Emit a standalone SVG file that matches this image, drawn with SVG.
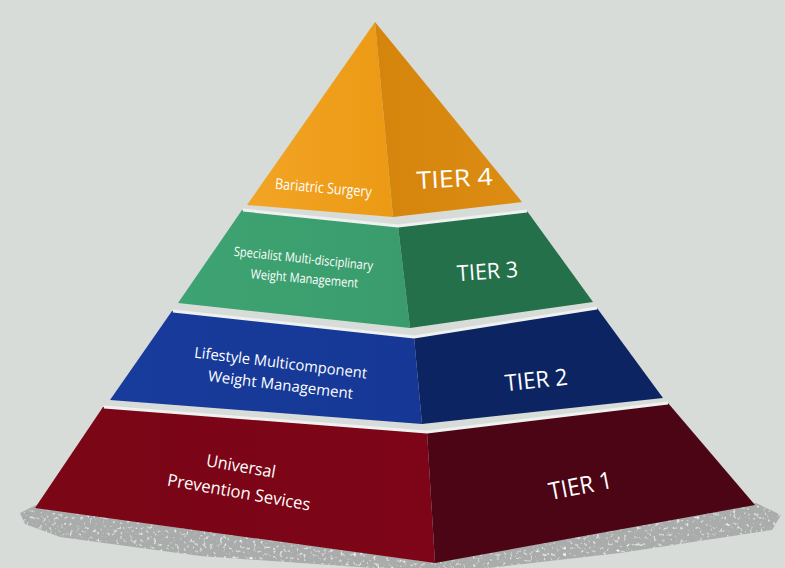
<svg xmlns="http://www.w3.org/2000/svg" width="785" height="568" viewBox="0 0 785 568">
<defs>
<style>
.lbl{font-family:"Open Sans","Liberation Sans",sans-serif;fill:#ffffff;text-anchor:middle}
.tier{font-family:"Open Sans","Liberation Sans",sans-serif;fill:#ffffff;text-anchor:middle}
.hl{fill:none;stroke:#eef1ef;stroke-width:3;stroke-linejoin:round}
</style>
<linearGradient id="gOrL" x1="0" y1="0" x2="1" y2="0"><stop offset="0" stop-color="#f2a425"/><stop offset="1" stop-color="#ec9a14"/></linearGradient>
<linearGradient id="gOrR" x1="0" y1="0" x2="1" y2="0"><stop offset="0" stop-color="#d5840c"/><stop offset="1" stop-color="#dc8d12"/></linearGradient>
<linearGradient id="gGrL" x1="0" y1="0" x2="1" y2="0"><stop offset="0" stop-color="#3ea372"/><stop offset="1" stop-color="#3a9c6c"/></linearGradient>
<linearGradient id="gBlL" x1="0" y1="0" x2="1" y2="0"><stop offset="0" stop-color="#183c9c"/><stop offset="1" stop-color="#163795"/></linearGradient>
<linearGradient id="gRdL" x1="0" y1="0" x2="1" y2="0"><stop offset="0" stop-color="#7a0616"/><stop offset="1" stop-color="#7d0517"/></linearGradient>
<filter id="speck" x="0" y="0" width="1" height="1">
<feTurbulence type="fractalNoise" baseFrequency="0.3" numOctaves="2" seed="3" result="n"/>
<feColorMatrix in="n" type="matrix" values="0 0 0 0 1  0 0 0 0 1  0 0 0 0 1  0 0 0 3 -1.75" result="w"/>
<feComposite in="w" in2="SourceGraphic" operator="in" result="ws"/>
<feMerge><feMergeNode in="SourceGraphic"/><feMergeNode in="ws"/></feMerge>
</filter>
</defs>
<rect width="785" height="568" fill="#d7dcd9"/>
<g id="shadow">
<polygon points="20,513 36,505 435,562 756,503 781,515 772,530 620,553 445,573 200,556 60,537 25,524" fill="#a9acab" filter="url(#speck)"/>
</g>
<g id="tier4">
<polygon points="375,22 247,205 393,217" fill="url(#gOrL)"/>
<polygon points="375,22 393,217 522,202" fill="url(#gOrR)"/>
<text class="lbl" font-size="15" textLength="97" lengthAdjust="spacingAndGlyphs" transform="translate(323,193) rotate(5)">Bariatric Surgery</text>
<text class="tier" font-size="24" textLength="76" lengthAdjust="spacingAndGlyphs" transform="translate(455,187) rotate(-3)">TIER 4</text>
</g>
<g id="tier3">
<polygon points="242,210 398,226 410,328 178,303" fill="url(#gGrL)"/>
<polygon points="398,226 527,211 593,302 410,328" fill="#23704a"/>
<polyline class="hl" points="243,210 398,226 527,211"/>
<text class="lbl" font-size="13" textLength="140" lengthAdjust="spacingAndGlyphs" transform="translate(303,263) rotate(6)">Specialist Multi-disciplinary</text>
<text class="lbl" font-size="13" textLength="108" lengthAdjust="spacingAndGlyphs" transform="translate(304,283) rotate(5)">Weight Management</text>
<text class="tier" font-size="22" textLength="61" lengthAdjust="spacingAndGlyphs" transform="translate(488,279) rotate(-4)">TIER 3</text>
</g>
<g id="tier2">
<polygon points="172,311 414,337 422,424 110,400" fill="url(#gBlL)"/>
<polygon points="414,337 597,308 663,398 422,424" fill="#0c2562"/>
<polyline class="hl" points="173,311 414,337 597,308"/>
<text class="lbl" font-size="15" textLength="174" lengthAdjust="spacingAndGlyphs" transform="translate(280,368) rotate(7)">Lifestyle Multicomponent</text>
<text class="lbl" font-size="15" textLength="146" lengthAdjust="spacingAndGlyphs" transform="translate(280,390) rotate(7)">Weight Management</text>
<text class="tier" font-size="23" textLength="63" lengthAdjust="spacingAndGlyphs" transform="translate(537,388) rotate(-6)">TIER 2</text>
</g>
<g id="tier1">
<polygon points="103,407 427,432 435,563 35,508" fill="url(#gRdL)"/>
<polygon points="427,432 668,403 755,505 435,563" fill="#4b0515"/>
<polyline class="hl" points="104,407 427,432 668,403"/>
<text class="lbl" font-size="17" textLength="70" lengthAdjust="spacingAndGlyphs" transform="translate(240,472) rotate(10)">Universal</text>
<text class="lbl" font-size="17" textLength="145" lengthAdjust="spacingAndGlyphs" transform="translate(238,498) rotate(10)">Prevention Sevices</text>
<text class="tier" font-size="24" textLength="64" lengthAdjust="spacingAndGlyphs" transform="translate(582,494) rotate(-11)">TIER 1</text>
</g>
</svg>
